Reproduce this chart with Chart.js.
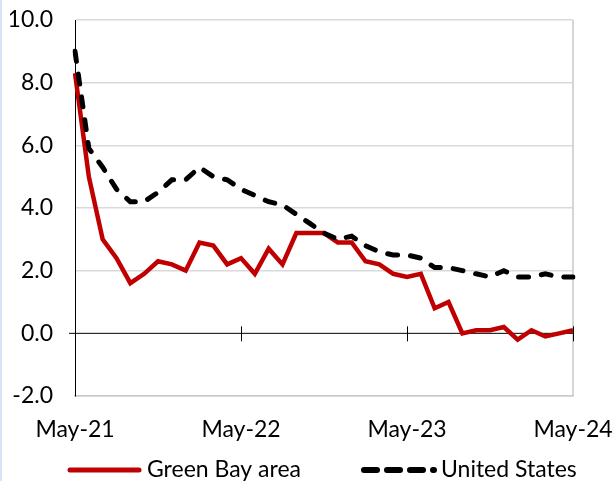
<!DOCTYPE html>
<html lang="en">
<head>
<meta charset="UTF-8">
<title>Green Bay area vs United States</title>
<script src="https://cdn.jsdelivr.net/npm/chart.js"></script>
<style>
    body { margin: 0; background: #fff; }
    .wrap { position: relative; width: 613px; height: 481px; }
    .stripe { position: absolute; left: 0; top: 0; width: 2px; height: 481px; background: #dae3f3; }
</style>
</head>
<body>
<div class="wrap">
    <canvas id="grafico" width="613" height="481"></canvas>
    <div class="stripe"></div>
</div>

<script>
    // meses de May-21 a May-24
    const meses = [
        'May-21', 'Jun-21', 'Jul-21', 'Aug-21', 'Sep-21', 'Oct-21', 'Nov-21', 'Dec-21',
        'Jan-22', 'Feb-22', 'Mar-22', 'Apr-22', 'May-22', 'Jun-22', 'Jul-22', 'Aug-22',
        'Sep-22', 'Oct-22', 'Nov-22', 'Dec-22', 'Jan-23', 'Feb-23', 'Mar-23', 'Apr-23',
        'May-23', 'Jun-23', 'Jul-23', 'Aug-23', 'Sep-23', 'Oct-23', 'Nov-23', 'Dec-23',
        'Jan-24', 'Feb-24', 'Mar-24', 'Apr-24', 'May-24'
    ];

    const greenBay = [
        8.3, 5.0, 3.0, 2.4, 1.6, 1.9, 2.3, 2.2, 2.0, 2.9, 2.8, 2.2, 2.4,
        1.9, 2.7, 2.2, 3.2, 3.2, 3.2, 2.9, 2.9, 2.3, 2.2, 1.9, 1.8,
        1.9, 0.8, 1.0, 0.0, 0.1, 0.1, 0.2, -0.2, 0.1, -0.1, 0.0, 0.1
    ];

    const unitedStates = [
        9.0, 5.9, 5.3, 4.6, 4.2, 4.2, 4.5, 4.9, 4.9, 5.3, 5.0, 4.9, 4.6,
        4.4, 4.2, 4.1, 3.8, 3.5, 3.2, 3.0, 3.1, 2.8, 2.6, 2.5, 2.5,
        2.4, 2.1, 2.1, 2.0, 1.9, 1.8, 2.0, 1.8, 1.8, 1.9, 1.8, 1.8
    ];

    const yMin = -2;
    const yMax = 10;
    const yStep = 2;

    const fonte = 'Lato, "Noto Sans", sans-serif';

    // linha do zero, marcas do eixo, borda direita e legenda
    const extras = {
        id: 'extras',
        beforeDatasetsDraw(chart) {
            const ctx = chart.ctx;
            const area = chart.chartArea;
            const x = chart.scales.x;
            const y0 = chart.scales.y.getPixelForValue(0);
            ctx.save();
            ctx.strokeStyle = '#c8c8c8';
            ctx.lineWidth = 1.5;
            ctx.beginPath();
            ctx.moveTo(area.right, area.top);
            ctx.lineTo(area.right, area.bottom);
            ctx.stroke();

            ctx.strokeStyle = '#000';
            ctx.lineWidth = 1;
            ctx.beginPath();
            ctx.moveTo(area.left - 6, y0);
            ctx.lineTo(area.right, y0);
            for (let i = 12; i < meses.length; i += 12) {
                const px = Math.round(x.getPixelForValue(i)) + 0.5;
                ctx.moveTo(px, y0 - 7);
                ctx.lineTo(px, y0 + 8);
            }
            ctx.stroke();
            ctx.restore();
        },
        afterDraw(chart) {
            const ctx = chart.ctx;
            const ly = 470;
            ctx.save();
            ctx.lineCap = 'round';

            ctx.strokeStyle = '#c00000';
            ctx.lineWidth = 5;
            ctx.beginPath();
            ctx.moveTo(70, ly);
            ctx.lineTo(139, ly);
            ctx.stroke();

            ctx.strokeStyle = '#000';
            ctx.lineWidth = 6;
            ctx.setLineDash([13, 10]);
            ctx.beginPath();
            ctx.moveTo(364, ly);
            ctx.lineTo(434, ly);
            ctx.stroke();
            ctx.setLineDash([]);

            ctx.fillStyle = '#000';
            ctx.font = '23px ' + fonte;
            ctx.textBaseline = 'middle';
            ctx.fillText('Green Bay area', 147, ly);
            ctx.fillText('United States', 441, ly);
            ctx.restore();
        }
    };

    const config = {
        type: 'line',
        data: {
            labels: meses,
            datasets: [{
                label: 'Green Bay area',
                data: greenBay,
                borderColor: '#c00000',
                backgroundColor: '#c00000',
                borderWidth: 4.5,
                pointRadius: 0,
                tension: 0,
                order: 2
            },
            {
                label: 'United States',
                data: unitedStates,
                borderColor: '#000',
                backgroundColor: '#000',
                borderWidth: 5,
                borderDash: [10, 13],
                borderCapStyle: 'round',
                pointRadius: 0,
                tension: 0,
                order: 1
            }]
        },
        options: {
            responsive: false,
            animation: false,
            layout: {
                padding: { left: 10, right: 40, top: 20, bottom: 39 }
            },
            plugins: {
                legend: { display: false },
                tooltip: { enabled: false }
            },
            scales: {
                x: {
                    offset: false,
                    grid: { display: false, drawTicks: false },
                    border: { color: '#c8c8c8', width: 1.5 },
                    afterFit: function (s) {
                        s.height = 46;
                        s.paddingLeft = 0;
                        s.paddingRight = 0;
                    },
                    ticks: {
                        autoSkip: false,
                        maxRotation: 0,
                        padding: 20,
                        color: '#000',
                        font: { family: fonte, size: 23 },
                        callback: function (v, i) {
                            return i % 12 === 0 ? meses[i] : '';
                        }
                    }
                },
                y: {
                    min: yMin,
                    max: yMax,
                    afterFit: function (s) {
                        s.width = 65;
                        s.paddingTop = 0;
                        s.paddingBottom = 0;
                    },
                    grid: {
                        drawTicks: false,
                        color: function (c) {
                            return c.tick.value === 0 ? 'rgba(0,0,0,0)' : '#d9d9d9';
                        },
                        lineWidth: 1.5
                    },
                    border: { color: '#000', width: 1 },
                    ticks: {
                        stepSize: yStep,
                        padding: 22,
                        color: '#000',
                        font: { family: fonte, size: 23 },
                        callback: function (v) {
                            return v.toFixed(1);
                        }
                    }
                }
            }
        },
        plugins: [extras]
    };

    new Chart(document.getElementById('grafico'), config);
</script>
</body>
</html>
